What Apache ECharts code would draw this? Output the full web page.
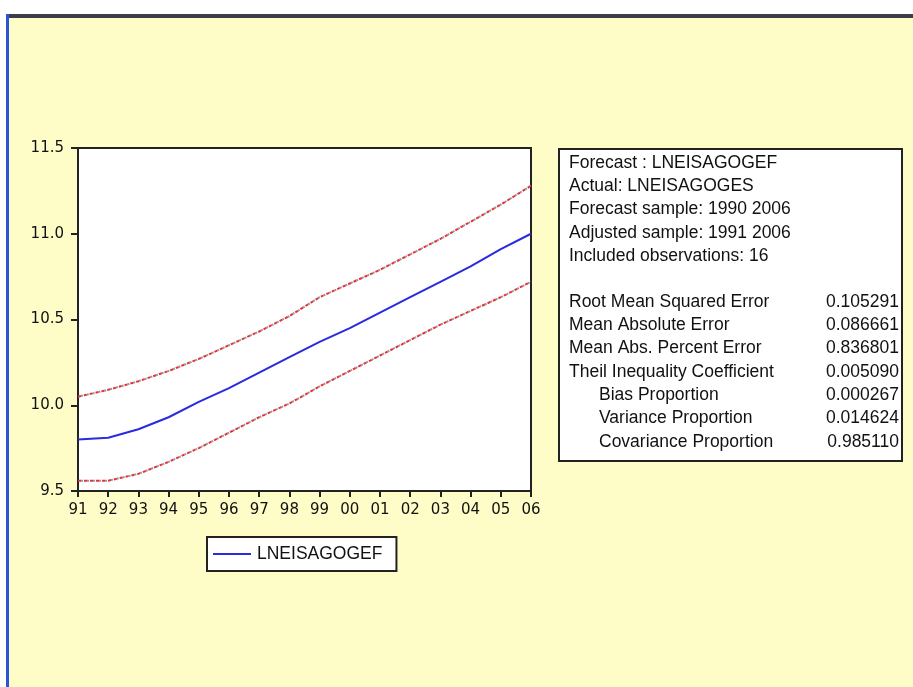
<!DOCTYPE html>
<html>
<head>
<meta charset="utf-8">
<script src="https://cdn.jsdelivr.net/npm/echarts@6/dist/echarts.min.js"></script>
<style>
html,body{margin:0;padding:0;background:#fff;}
#chart{width:913px;height:687px;}
</style>
</head>
<body>
<div id="chart"></div>
<script>
var categories = ['91','92','93','94','95','96','97','98','99','00','01','02','03','04','05','06'];
var forecast = [9.80,9.81,9.86,9.93,10.02,10.10,10.19,10.28,10.37,10.45,10.54,10.63,10.72,10.81,10.91,11.00];
var upperBand = [10.05,10.09,10.14,10.20,10.27,10.35,10.43,10.52,10.63,10.71,10.79,10.88,10.97,11.07,11.17,11.28];
var lowerBand = [9.56,9.56,9.60,9.67,9.75,9.84,9.93,10.01,10.11,10.20,10.29,10.38,10.47,10.55,10.63,10.72];
var headerLines = ['Forecast : LNEISAGOGEF','Actual: LNEISAGOGES','Forecast sample: 1990 2006','Adjusted sample: 1991 2006','Included observations: 16'];
var statLabels = ['Root Mean Squared Error','Mean Absolute Error','Mean Abs. Percent Error','Theil Inequality Coefficient','Bias Proportion','Variance Proportion','Covariance Proportion'];
var statIndent = [0,0,0,0,1,1,1];
var statValues = ['0.105291','0.086661','0.836801','0.005090','0.000267','0.014624','0.985110'];

var chart = echarts.init(document.getElementById('chart'));
var font = 'Arial, "Liberation Sans", sans-serif';
var axisFont = '"DejaVu Sans", sans-serif';
var txtStyle = {fontFamily: font, fontSize: 17.5, fill: '#111'};

var graphics = [
  {type:'rect', shape:{x:0,y:0,width:913,height:687}, style:{fill:'#FEFDC8'}, z:-10},
  {type:'rect', shape:{x:0,y:0,width:913,height:14}, style:{fill:'#ffffff'}, z:-9},
  {type:'rect', shape:{x:0,y:0,width:7,height:687}, style:{fill:'#ffffff'}, z:-9},
  {type:'rect', shape:{x:7,y:14,width:906,height:4}, style:{fill:'#3a3f4a'}, z:-8},
  {type:'rect', shape:{x:6,y:14,width:3,height:673}, style:{fill:'#2a55d8'}, z:-7},
  {type:'rect', shape:{x:559,y:149,width:343,height:312}, style:{fill:'#ffffff', stroke:'#222', lineWidth:2}, z:1}
];
headerLines.forEach(function(t,i){
  graphics.push({type:'text', x:569, y:163 + i*23.3, style:Object.assign({text:t, textVerticalAlign:'middle'}, txtStyle), z:2});
});
statLabels.forEach(function(t,i){
  graphics.push({type:'text', x:statIndent[i] ? 599 : 569, y:302 + i*23.3, style:Object.assign({text:t, textVerticalAlign:'middle'}, txtStyle), z:2});
  graphics.push({type:'text', x:899, y:302 + i*23.3, style:Object.assign({text:statValues[i], textAlign:'right', textVerticalAlign:'middle'}, txtStyle), z:2});
});

chart.setOption({
  animation: false,
  backgroundColor: 'transparent',
  graphic: graphics,
  grid: {left:78, right:382, top:148, bottom:196, show:true, backgroundColor:'#ffffff', borderColor:'#222', borderWidth:2, containLabel:false},
  legend: {
    data: ['LNEISAGOGEF'],
    left: 207, top: 537,
    backgroundColor: '#ffffff', borderColor: '#222', borderWidth: 2,
    padding: [8, 14, 8, 6],
    itemWidth: 38, itemHeight: 2, icon: 'rect', itemGap: 6,
    textStyle: {fontFamily: font, fontSize: 17.5, color: '#111', padding:[0,0,0,1]}
  },
  xAxis: {
    type: 'category', data: categories, boundaryGap: false,
    axisLine: {show:true, lineStyle:{color:'#222', width:2}},
    axisTick: {show:true, alignWithLabel:true, length:6, lineStyle:{color:'#222', width:2}},
    axisLabel: {fontFamily: axisFont, fontSize: 15, color:'#111', margin:12, interval:0},
    splitLine: {show:false}
  },
  yAxis: {
    type: 'value', min: 9.5, max: 11.5, interval: 0.5,
    axisLine: {show:true, lineStyle:{color:'#222', width:2}},
    axisTick: {show:true, length:7, lineStyle:{color:'#222', width:2}},
    axisLabel: {fontFamily: axisFont, fontSize: 15, color:'#111', margin:14, formatter:function(v){return v.toFixed(1);}},
    splitLine: {show:false}
  },
  series: [
    {name:'upper_grey', type:'line', data:upperBand, symbol:'none', silent:true, lineStyle:{color:'#999', width:2, type:[2,4], dashOffset:3}},
    {name:'lower_grey', type:'line', data:lowerBand, symbol:'none', silent:true, lineStyle:{color:'#999', width:2, type:[2,4], dashOffset:3}},
    {name:'upper', type:'line', data:upperBand, symbol:'none', silent:true, lineStyle:{color:'#e8303a', width:2, type:[3,3]}},
    {name:'lower', type:'line', data:lowerBand, symbol:'none', silent:true, lineStyle:{color:'#e8303a', width:2, type:[3,3]}},
    {name:'LNEISAGOGEF', type:'line', data:forecast, symbol:'none', itemStyle:{color:'#2a2ae0'}, lineStyle:{color:'#2a2ae0', width:2}}
  ]
});
</script>
</body>
</html>
